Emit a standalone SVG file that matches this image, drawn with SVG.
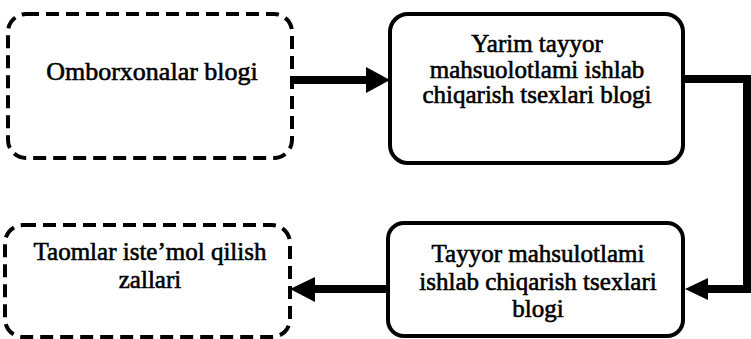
<svg xmlns="http://www.w3.org/2000/svg" width="751" height="339" viewBox="0 0 751 339">
<style>
.box{fill:#fff;stroke:#000;stroke-width:4}
.dash{stroke-dasharray:13 7}
.t{font-family:"Liberation Serif","Times New Roman",serif;font-size:25px;fill:#000;stroke:#000;stroke-width:0.6;text-anchor:middle}
.big{font-size:26px}
.c{fill:none;stroke:#000;stroke-width:8}
.h{fill:#000}
</style>
<rect width="751" height="339" fill="#fff"/>
<g id="n1">
<rect class="box dash" x="8" y="14" width="284" height="144" rx="18"/>
<text class="t big" x="152" y="80">Omborxonalar blogi</text>
</g>
<g id="n2">
<rect class="box" x="390" y="14" width="293" height="149" rx="18"/>
<text class="t" x="537" y="52">Yarim tayyor</text>
<text class="t" x="537" y="77.5">mahsuolotlami ishlab</text>
<text class="t" x="537" y="103">chiqarish tsexlari blogi</text>
</g>
<g id="n3">
<rect class="box" x="388" y="223" width="295" height="113" rx="16"/>
<text class="t" x="538" y="262">Tayyor mahsulotlami</text>
<text class="t" x="538" y="290">ishlab chiqarish tsexlari</text>
<text class="t" x="538" y="317">blogi</text>
</g>
<g id="n4">
<rect class="box dash" x="5" y="225" width="285" height="112" rx="18"/>
<text class="t" x="150" y="260">Taomlar iste’mol qilish</text>
<text class="t" x="150" y="288">zallari</text>
</g>
<g id="connectors">
<line class="c" x1="292" y1="80" x2="368" y2="80"/>
<polygon class="h" points="366,67 390,80 366,93"/>
<polyline class="c" points="683,79 747,79 747,289 706,289"/>
<polygon class="h" points="708,278 685,289 708,300"/>
<line class="c" x1="388" y1="289" x2="313" y2="289"/>
<polygon class="h" points="315,277 290,289 315,302"/>
</g>
</svg>
